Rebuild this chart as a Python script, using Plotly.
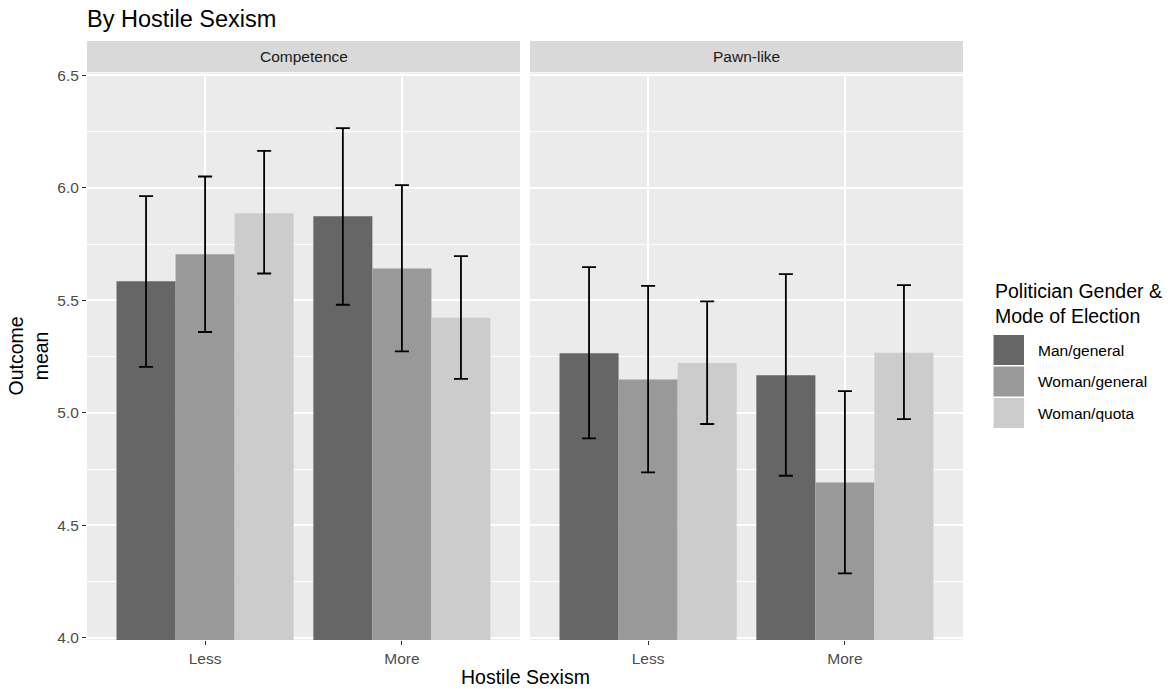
import plotly.graph_objects as go

# ---- data ----
levels = ["Less", "More"]
groups = ["Man/general", "Woman/general", "Woman/quota"]
facets = ["Competence", "Pawn-like"]

comp_mean = {"Man/general": [5.584, 5.873], "Woman/general": [5.704, 5.641], "Woman/quota": [5.887, 5.422]}
comp_low = {"Man/general": [5.204, 5.480], "Woman/general": [5.359, 5.273], "Woman/quota": [5.619, 5.151]}
comp_high = {"Man/general": [5.963, 6.265], "Woman/general": [6.050, 6.012], "Woman/quota": [6.164, 5.696]}

pawn_mean = {"Man/general": [5.265, 5.167], "Woman/general": [5.148, 4.690], "Woman/quota": [5.221, 5.267]}
pawn_low = {"Man/general": [4.886, 4.720], "Woman/general": [4.735, 4.286], "Woman/quota": [4.950, 4.972]}
pawn_high = {"Man/general": [5.647, 5.616], "Woman/general": [5.564, 5.096], "Woman/quota": [5.495, 5.567]}

colors = {"Man/general": "#666666", "Woman/general": "#999999", "Woman/quota": "#cccccc"}

y_ticks = [4.0, 4.5, 5.0, 5.5, 6.0, 6.5]

# ---- geometry ----
W, H = 1170, 689
L, R, T, B = 87, 963, 73, 640
pw = R - L
ph = B - T
p1_end = (520 - L) / pw
p2_start = (530 - L) / pw

FONT = "Liberation Sans, Arial, sans-serif"

fig = go.Figure()

panels = [(comp_mean, comp_low, comp_high, "x", "y"), (pawn_mean, pawn_low, pawn_high, "x2", "y2")]
for means, lows, highs, xa, ya in panels:
    for g in groups:
        m = means[g]
        up = [h - v for h, v in zip(highs[g], m)]
        dn = [v - l for v, l in zip(m, lows[g])]
        fig.add_trace(go.Bar(
            x=levels, y=m, name=g, xaxis=xa, yaxis=ya, showlegend=False,
            marker=dict(color=colors[g], line=dict(width=0)),
            error_y=dict(type="data", symmetric=False, array=up, arrayminus=dn,
                         color="black", thickness=1.8, width=7),
            hoverinfo="x+y+name",
        ))

axis_common = dict(
    type="category", range=[-0.6, 1.6], showgrid=True, gridcolor="white", gridwidth=1.5,
    ticks="outside", ticklen=4, tickwidth=1.1, tickcolor="#333333",
    tickfont=dict(family=FONT, size=15.5, color="#4d4d4d"), showline=False, zeroline=False,
)
yaxis_common = dict(
    range=[3.99, 6.51], tick0=4.0, dtick=0.5, tickvals=y_ticks, tickformat=".1f",
    showgrid=True, gridcolor="white", gridwidth=1.5, zeroline=False, showline=False,
    minor=dict(dtick=0.25, tick0=4.0, showgrid=True, gridcolor="white", gridwidth=0.7, ticks=""),
    tickfont=dict(family=FONT, size=15.5, color="#4d4d4d"),
)

fig.update_layout(
    width=W, height=H,
    margin=dict(l=L, r=W - R, t=T, b=H - B, autoexpand=False),
    paper_bgcolor="white", plot_bgcolor="white",
    barmode="group", bargap=0.1, bargroupgap=0,
    xaxis=dict(domain=[0, p1_end], anchor="y", **axis_common),
    xaxis2=dict(domain=[p2_start, 1], anchor="y2", **axis_common),
    yaxis=dict(anchor="x", ticks="outside", ticklen=4, tickwidth=1.1, tickcolor="#333333", **yaxis_common),
    yaxis2=dict(anchor="x2", matches="y", showticklabels=False, ticks="", **yaxis_common),
    showlegend=False,
    title=dict(text="By Hostile Sexism", x=L / W, xanchor="left", xref="container",
               y=1 - 19 / H, yanchor="middle", yref="container",
               font=dict(family=FONT, size=23.5, color="black")),
)

shapes = []
annotations = []
# panel backgrounds + strips
for i, (xd, yd, name) in enumerate([("x domain", "y domain", facets[0]), ("x2 domain", "y2 domain", facets[1])]):
    shapes.append(dict(type="rect", xref=xd, yref=yd, x0=0, x1=1, y0=0, y1=1,
                       fillcolor="#ebebeb", line=dict(width=0), layer="below"))
    shapes.append(dict(type="rect", xref=xd, yref="paper", x0=0, x1=1,
                       y0=1 + (T - 72.3) / ph, y1=1 + (T - 41) / ph,
                       fillcolor="#d9d9d9", line=dict(width=0), layer="below"))
    annotations.append(dict(text=name, xref=xd, yref="paper", x=0.5, y=1 + (T - 56.5) / ph,
                            showarrow=False, xanchor="center", yanchor="middle",
                            font=dict(family=FONT, size=15.5, color="#1a1a1a")))

# axis titles
annotations.append(dict(text="Hostile Sexism", xref="paper", yref="paper", x=0.5, y=(B - 677) / ph,
                        showarrow=False, xanchor="center", yanchor="middle",
                        font=dict(family=FONT, size=19.5, color="black")))
annotations.append(dict(text="Outcome<br>mean", xref="paper", yref="paper", x=(28 - L) / pw, y=0.5,
                        showarrow=False, xanchor="center", yanchor="middle", textangle=-90,
                        font=dict(family=FONT, size=19.5, color="black")))

# manual legend
def px_x(v):
    return (v - L) / pw

def px_y(v):
    return (B - v) / ph

annotations.append(dict(text="Politician Gender &<br>Mode of Election", xref="paper", yref="paper",
                        x=px_x(993), y=px_y(303), showarrow=False, xanchor="left", yanchor="middle",
                        align="left", font=dict(family=FONT, size=19.5, color="black")))
key_tops = [335, 366.5, 398]
for g, kt in zip(groups, key_tops):
    shapes.append(dict(type="rect", xref="paper", yref="paper", x0=px_x(993.5), x1=px_x(1024),
                       y0=px_y(kt + 30), y1=px_y(kt), fillcolor=colors[g], line=dict(width=0)))
    annotations.append(dict(text=g, xref="paper", yref="paper", x=px_x(1036), y=px_y(kt + 15),
                            showarrow=False, xanchor="left", yanchor="middle",
                            font=dict(family=FONT, size=15.5, color="black")))

fig.update_layout(shapes=shapes, annotations=annotations)

fig.write_html("out.html")
